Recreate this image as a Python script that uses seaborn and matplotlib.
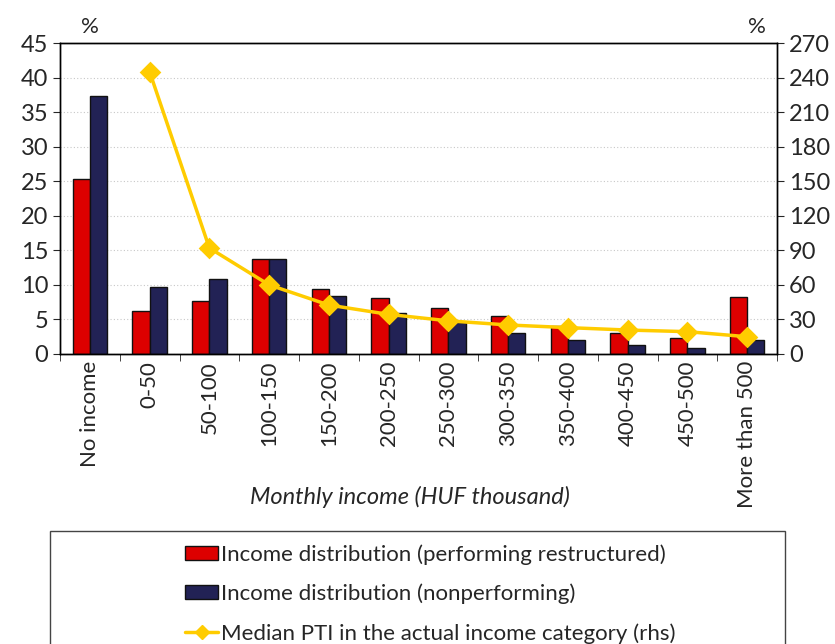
import numpy as np
import pandas as pd
import matplotlib.pyplot as plt
import seaborn as sns
from matplotlib.patches import Patch, Rectangle
from matplotlib.lines import Line2D

sns.set_style("white")
plt.rcParams['font.family'] = ['Lato', 'DejaVu Sans']

categories = ["No income", "0-50", "50-100", "100-150", "150-200", "200-250",
              "250-300", "300-350", "350-400", "400-450", "450-500", "More than 500"]
performing = [25.3, 6.2, 7.6, 13.8, 9.4, 8.1, 6.6, 5.5, 4.0, 3.0, 2.3, 8.3]
nonperforming = [37.3, 9.7, 10.8, 13.8, 8.4, 6.0, 4.7, 3.1, 2.0, 1.35, 0.9, 2.0]
median_pti = [np.nan, 245, 92, 60, 42.5, 34.4, 28.8, 25.2, 22.9, 20.8, 19.4, 15]

lab_perf = "Income distribution (performing restructured)"
lab_nonp = "Income distribution (nonperforming)"
lab_pti = "Median PTI in the actual income category (rhs)"

df = pd.DataFrame({
    "category": categories * 2,
    "value": performing + nonperforming,
    "series": [lab_perf] * 12 + [lab_nonp] * 12,
})
pti = pd.DataFrame({"category": categories, "pti": median_pti})

red = "#DD0000"
navy = "#222255"
gold = "#FFCC00"

fig = plt.figure(figsize=(8.35, 6.44), dpi=100)
ax = fig.add_axes([60 / 835, 1 - 354 / 644, 717 / 835, 311 / 644])

sns.barplot(data=df, x="category", y="value", hue="series", order=categories,
            palette=[red, navy], saturation=1, width=0.58, gap=0,
            edgecolor="#111111", linewidth=1, ax=ax, legend=False)
ax.set_ylim(0, 45)
ax.set_yticks(np.arange(0, 46, 5))
ax.set_xlim(-0.5, 11.5)
ax.yaxis.grid(True, linestyle=(0, (1, 2)), color="#c8c8c8", linewidth=0.8)
ax.set_axisbelow(True)
ax.set_xlabel("")
ax.set_ylabel("")
ax.tick_params(axis="x", length=0, labelsize=16, labelrotation=90, pad=5)
ax.set_xticks(np.arange(-0.5, 12, 1), minor=True)
ax.tick_params(axis="x", which="minor", length=5, direction="out", bottom=True)
ax.tick_params(axis="y", labelsize=17, length=5, direction="out", left=True)

ax2 = ax.twinx()
sns.pointplot(data=pti, x="category", y="pti", order=categories, color=gold,
              markers="D", markersize=9, linewidth=2.5, ax=ax2)
ax2.set_ylim(0, 270)
ax2.set_yticks(np.arange(0, 271, 30))
ax2.set_ylabel("")
ax2.set_xlim(-0.5, 11.5)
ax2.tick_params(axis="y", labelsize=17, length=5, direction="out", right=True)

for a in (ax, ax2):
    for s in a.spines.values():
        s.set_color("black")
        s.set_linewidth(1)

fig.text(410 / 835, 1 - 497 / 644, "Monthly income (HUF thousand)", fontsize=17,
         style="italic", ha="center", va="center")
fig.text(90 / 835, 1 - 27 / 644, "%", fontsize=16, ha="center", va="center")
fig.text(757 / 835, 1 - 27 / 644, "%", fontsize=16, ha="center", va="center")

fig.patches.append(Rectangle((50 / 835, -0.01), 735 / 835, (644 - 531) / 644 + 0.01,
                             transform=fig.transFigure, fill=False,
                             edgecolor="#444444", linewidth=1))
handles = [
    Patch(facecolor=red, edgecolor="#111111", linewidth=1),
    Patch(facecolor=navy, edgecolor="#111111", linewidth=1),
    Line2D([], [], color=gold, linewidth=2.5, marker="D", markersize=7),
]
fig.legend(handles, [lab_perf, lab_nonp, lab_pti], loc="upper left",
           bbox_to_anchor=(174 / 835, 1 - 533 / 644), frameon=False,
           fontsize=16, handlelength=1.5, handleheight=0.6, handletextpad=0.1,
           labelspacing=0.85, borderpad=0)

fig.savefig("out.png", dpi=100)
